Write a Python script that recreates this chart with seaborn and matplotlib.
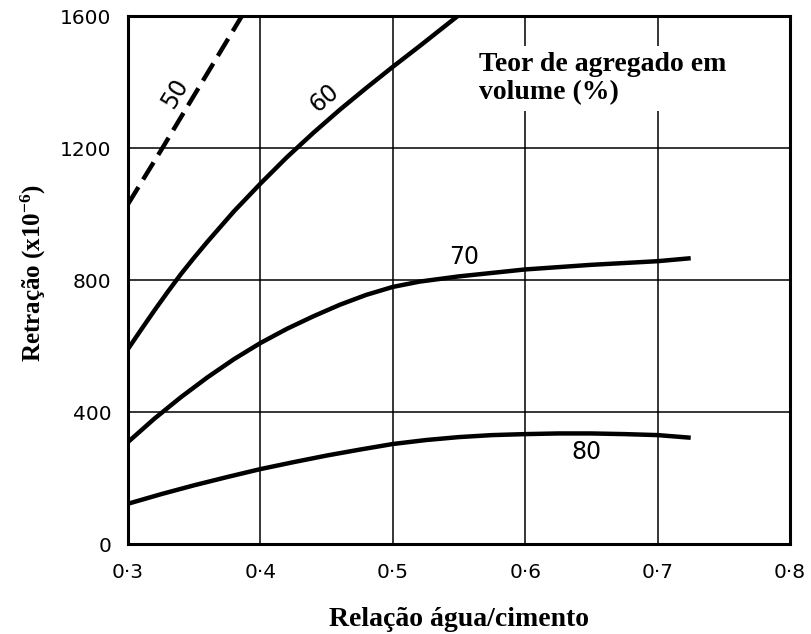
import matplotlib
matplotlib.use("Agg")
import matplotlib.pyplot as plt
import seaborn as sns
import pandas as pd

# --- data ---
x50 = [0.300, 0.326, 0.356, 0.386]
y50 = [1030, 1200, 1400, 1600]

x60 = [0.300, 0.310, 0.320, 0.330, 0.340, 0.350, 0.360, 0.380, 0.400, 0.420,
       0.440, 0.460, 0.480, 0.500, 0.520, 0.550]
y60 = [591, 650, 708, 764, 818, 868, 916, 1008, 1092, 1172,
       1246, 1316, 1382, 1446, 1508, 1603]

x70 = [0.300, 0.320, 0.340, 0.360, 0.380, 0.400, 0.420, 0.440, 0.460, 0.480,
       0.500, 0.520, 0.550, 0.600, 0.650, 0.700, 0.725]
y70 = [309, 380, 445, 505, 560, 609, 652, 690, 725, 755,
       779, 795, 811, 832, 846, 857, 866]

x80 = [0.300, 0.325, 0.350, 0.375, 0.400, 0.425, 0.450, 0.475, 0.500, 0.525,
       0.550, 0.575, 0.600, 0.625, 0.650, 0.675, 0.700, 0.725]
y80 = [122, 151, 178, 203, 227, 248, 268, 286, 303, 315,
       324, 330, 333, 335, 335, 333, 330, 322]

series_names = ["50", "60", "70", "80"]
label_x = [0.3356, 0.448, 0.554, 0.646]
label_y = [1366, 1351, 870, 279]
label_rot = [59, 40, 0, 0]

xticks = [0.3, 0.4, 0.5, 0.6, 0.7, 0.8]
xticklabels = ["0·3", "0·4", "0·5", "0·6", "0·7", "0·8"]
yticks = [0, 400, 800, 1200, 1600]
yticklabels = ["0", "400", "800", "1200", "1600"]

xlabel = "Relação água/cimento"
ylabel = r"Retração (x10$^{\mathrm{-6}}$)"
legend_title = "Teor de agregado em\nvolume (%)"

# --- build long table ---
frames = []
for name, xs, ys in zip(series_names, [x50, x60, x70, x80], [y50, y60, y70, y80]):
    frames.append(pd.DataFrame({"ac": xs, "retracao": ys, "teor": name}))
df = pd.concat(frames, ignore_index=True)

sns.set_style("white")
plt.rcParams["font.family"] = ["DejaVu Sans"]
plt.rcParams["text.color"] = "black"
plt.rcParams["axes.labelcolor"] = "black"
plt.rcParams["xtick.color"] = "black"
plt.rcParams["ytick.color"] = "black"
plt.rcParams["mathtext.fontset"] = "custom"
plt.rcParams["mathtext.rm"] = "Liberation Serif:bold"
plt.rcParams["mathtext.it"] = "Liberation Serif:bold"
plt.rcParams["mathtext.bf"] = "Liberation Serif:bold"

fig = plt.figure(figsize=(8.12, 6.34), dpi=100)
ax = fig.add_axes([128 / 812, (634 - 544) / 634, (790 - 128) / 812, (544 - 16) / 634])

sns.lineplot(
    data=df, x="ac", y="retracao", hue="teor", style="teor",
    palette={n: "black" for n in series_names},
    dashes={"50": (4.5, 2.0), "60": "", "70": "", "80": ""},
    linewidth=3.2, legend=False, ax=ax, sort=False,
    estimator=None,
)
for ln in ax.lines:
    ln.set_solid_capstyle("butt")
    ln.set_dash_capstyle("butt")
    ln.set_solid_joinstyle("round")

ax.set_xlim(0.3, 0.8)
ax.set_ylim(0, 1600)
ax.set_xticks(xticks)
ax.set_xticklabels(xticklabels)
ax.set_yticks(yticks)
ax.set_yticklabels(yticklabels)

for lab in ax.get_xticklabels() + ax.get_yticklabels():
    lab.set_fontfamily(["DejaVu Sans"])
    lab.set_fontsize(14.5)
    lab.set_color("black")
ax.tick_params(axis="both", length=0, labelcolor="black")
ax.tick_params(axis="x", pad=14)
ax.tick_params(axis="y", pad=12)

ax.grid(True, color="black", linewidth=1.1)
ax.set_axisbelow(True)
for sp in ax.spines.values():
    sp.set_visible(True)
    sp.set_color("black")
    sp.set_linewidth(2.2)

serif = ["Liberation Serif", "DejaVu Serif"]
ax.set_xlabel(xlabel, fontfamily=serif, fontweight="bold", fontsize=20, color="black")
ax.set_ylabel(ylabel, fontfamily=serif, fontweight="bold", fontsize=18, color="black")
ax.xaxis.set_label_coords(0.5, (544 - 620) / 528)
ax.xaxis.label.set_va("center")
ax.yaxis.set_label_coords((33 - 128) / 662, (544 - 273) / 528)
ax.yaxis.label.set_va("center")

for name, lx, ly, rot in zip(series_names, label_x, label_y, label_rot):
    ax.text(lx, ly, name, ha="center", va="center", rotation=rot,
            fontfamily=["DejaVu Sans"], fontsize=17, color="black")

ax.text(0.5652, 1492, legend_title, ha="left", va="top",
        fontfamily=serif, fontweight="bold", fontsize=20, color="black",
        linespacing=1.2,
        bbox=dict(facecolor="white", edgecolor="none", pad=4))

fig.savefig("out.png", dpi=100, facecolor="white")
